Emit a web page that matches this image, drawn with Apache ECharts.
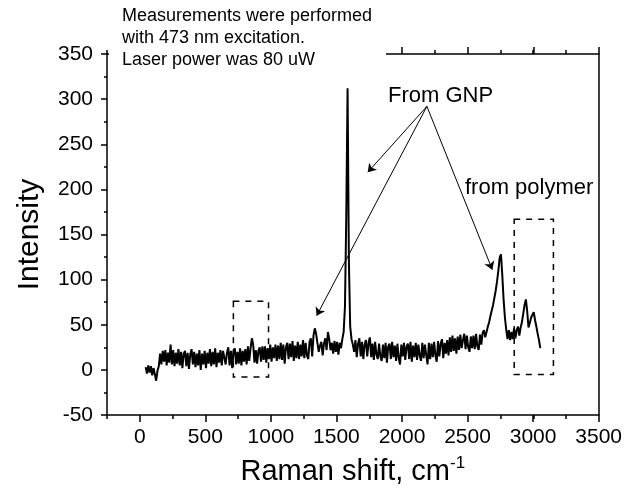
<!DOCTYPE html>
<html>
<head>
<meta charset="utf-8">
<script src="https://cdn.jsdelivr.net/npm/echarts@6/dist/echarts.min.js"></script>
<style>
  html, body { margin: 0; padding: 0; background: #fff; }
  #chart { width: 625px; height: 494px; }
</style>
</head>
<body>
<div id="chart"></div>
<script>
// Raman spectrum: one value every 10 cm-1 starting at 45 cm-1
const shiftStart = 45
const shiftStep = 10
const intensity = [
  3, -4, 5, -3, 4, -6, 2, -5, -12, -1,
  4, 18, 6, 21, 9, 22, 5, 19, 8, 28,
  6, 22, 4, 19, 7, 23, 5, 20, 2, 18,
  21, 4, 19, 1, 17, 23, 6, 20, 3, 18,
  5, 22, 0, 18, 6, 21, 2, 19, 7, 23,
  4, 20, 6, 24, 3, 19, 8, 22, 5, 21,
  23, 6, 19, 25, 5, 21, 2, 20, 24, 6,
  20, 7, 24, 5, 21, 9, 23, 6, 26, 10,
  24, 35, 28, 8, 22, 7, 21, 25, 9, 26,
  11, 26, 8, 24, 12, 28, 9, 25, 13, 28,
  10, 27, 12, 30, 11, 28, 7, 25, 30, 12,
  29, 14, 32, 10, 27, 13, 31, 12, 28, 15,
  33, 13, 30, 16, 12, 31, 35, 15, 38, 46,
  40, 30, 20, 27, 31, 16, 29, 35, 22, 42,
  34, 22, 30, 18, 32, 20, 31, 17, 30, 24,
  34, 42, 70, 170, 312, 120, 48, 34, 28, 20,
  33, 14, 29, 35, 15, 31, 12, 28, 33, 15,
  30, 36, 14, 29, 11, 31, 17, 12, 29, 15,
  10, 28, 13, 30, 8, 26, 29, 12, 31, 14,
  27, 10, 29, 13, 6, 28, 15, 30, 11, 26,
  29, 12, 31, 9, 27, 14, 30, 11, 28, 16,
  10, 30, 13, 28, 16, 6, 30, 12, 29, 14,
  31, 16, 9, 32, 15, 29, 34, 13, 30, 18,
  33, 16, 36, 20, 38, 21, 35, 18, 37, 22,
  39, 24, 33, 40, 23, 38, 25, 20, 37, 24,
  38, 23, 40, 26, 22, 39, 28, 41, 44, 36,
  42, 48, 53, 60, 66, 72, 80, 88, 98, 110,
  124, 128, 105, 78, 58, 45, 34, 44, 33, 42,
  34, 46, 35, 44, 48, 38, 47, 53, 52, 72,
  78, 65, 47, 52, 58, 60, 64, 55, 48, 40,
  33, 24
]

const xMajorTicks = [0, 500, 1000, 1500, 2000, 2500, 3000, 3500]

// dashed boxes: [x0, y0] -> [x1, y1] in data units
const boxes = [
  [[714, 76], [982, -8]],
  [[2856, 167], [3155, -5]]
]
// arrows from the "From GNP" label to the bands
const arrowFrom = [2190, 292]
const arrowTo = [[1739, 219], [1349, 60], [2689, 111]]

const noteLines = ['Measurements were performed', 'with 473 nm excitation.', 'Laser power was 80 uW']

const FONT = '"Liberation Sans", Arial, sans-serif'
const plain = v => String(v)
const plotBox = { left: 107, right: 26, top: 54, bottom: 79 }

function line(show) {
  return { show: show, onZero: false, lineStyle: { color: '#000', width: 1.5 } }
}
function ticks(len, values) {
  const t = { show: true, length: len, lineStyle: { color: '#000', width: 1.5 } }
  if (values) t.customValues = values
  return t
}
function xAxis(grid, pos, extra) {
  return Object.assign({
    type: 'value', gridIndex: grid, position: pos, min: -250, max: 3500,
    axisLabel: { show: false }, splitLine: { show: false }
  }, extra)
}

const chart = echarts.init(document.getElementById('chart'))
const points = intensity.map((v, i) => [shiftStart + i * shiftStep, v])

chart.setOption({
  animation: false,
  backgroundColor: '#fff',
  // second grid on the same box only carries the extra tick rows
  grid: [Object.assign({}, plotBox), Object.assign({}, plotBox)],
  xAxis: [
    xAxis(0, 'bottom', {
      axisLine: line(true),
      axisTick: ticks(7, xMajorTicks),
      axisLabel: { customValues: xMajorTicks, formatter: plain, color: '#000', fontSize: 21, fontFamily: FONT, margin: 12 },
      name: 'Raman shift, cm{sup|-1}',
      nameLocation: 'middle',
      nameGap: 40,
      nameTextStyle: {
        color: '#000', fontSize: 29, fontFamily: FONT,
        rich: { sup: { fontSize: 17, fontFamily: FONT, color: '#000', verticalAlign: 'top', padding: [0, 0, 16, 0] } }
      }
    }),
    xAxis(0, 'top', { interval: 250, axisLine: line(true), axisTick: ticks(4) }),
    xAxis(1, 'bottom', { interval: 250, axisLine: line(false), axisTick: ticks(4) }),
    xAxis(1, 'top', { axisLine: line(false), axisTick: ticks(7, xMajorTicks) })
  ],
  yAxis: [
    {
      type: 'value', gridIndex: 0, position: 'left', min: -50, max: 350, interval: 50,
      axisLine: line(true),
      axisTick: ticks(6),
      minorTick: { show: true, splitNumber: 2, length: 3, lineStyle: { color: '#000', width: 1.5 } },
      axisLabel: { formatter: plain, color: '#000', fontSize: 21, fontFamily: FONT, margin: 14 },
      splitLine: { show: false },
      name: 'Intensity',
      nameLocation: 'middle',
      nameGap: 62,
      nameTextStyle: { color: '#000', fontSize: 30, fontFamily: FONT }
    },
    {
      type: 'value', gridIndex: 0, position: 'right', min: -50, max: 350, interval: 50,
      axisLine: line(true),
      axisTick: { show: false },
      axisLabel: { show: false },
      splitLine: { show: false }
    },
    {
      type: 'value', gridIndex: 1, min: -50, max: 350, show: false
    }
  ],
  series: [{
    type: 'line',
    xAxisIndex: 0,
    yAxisIndex: 0,
    data: points,
    showSymbol: false,
    lineStyle: { color: '#000', width: 2 },
    silent: true,
    markArea: {
      silent: true,
      itemStyle: { color: 'rgba(0,0,0,0)', borderColor: '#000', borderWidth: 1.5, borderType: [6, 6] },
      data: boxes.map(b => [{ coord: b[0] }, { coord: b[1] }])
    },
    markLine: {
      silent: true,
      symbol: ['none', 'arrow'],
      symbolSize: 8,
      label: { show: false },
      lineStyle: { color: '#000', width: 1, type: 'solid' },
      data: arrowTo.map(t => [{ coord: arrowFrom }, { coord: t }])
    }
  }],
  graphic: [
    { type: 'rect', z: 100, shape: { x: 109, y: 42, width: 277, height: 16 }, style: { fill: '#fff' } },
    ...noteLines.map((t, i) => ({
      type: 'text', z: 101, left: 122, top: 7 + i * 22,
      style: { text: t, fill: '#000', font: '18px ' + FONT }
    })),
    { type: 'text', z: 101, left: 388, top: 85, style: { text: 'From GNP', fill: '#000', font: '22px ' + FONT } },
    { type: 'text', z: 101, left: 465, top: 177, style: { text: 'from polymer', fill: '#000', font: '22px ' + FONT } }
  ]
})
</script>
</body>
</html>
